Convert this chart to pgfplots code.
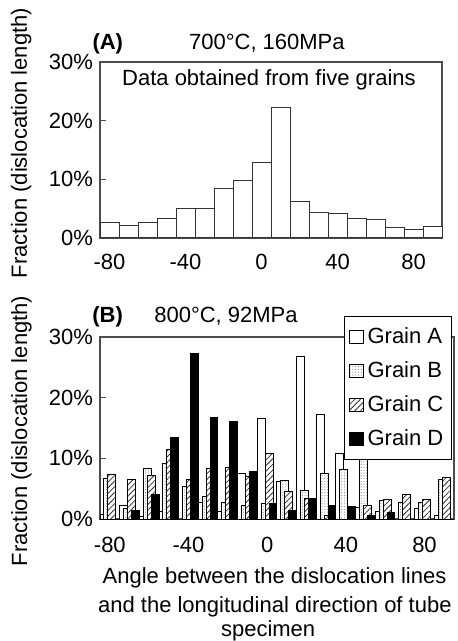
\documentclass[border=0pt]{standalone}
\usepackage{fontspec}
\setmainfont{Liberation Sans}
\usepackage{pgfplots}
\pgfplotsset{compat=1.18}
\usetikzlibrary{patterns.meta}

\newcommand{\figfont}{\fontsize{11}{13}\selectfont}

\pgfplotsset{
  panel/.style={
    scale only axis,
    xmin=-85, xmax=95, ymin=0, ymax=30,
    xtick={-80,-40,0,40,80}, xticklabels={-80,-40,0,40,80},
    ytick={0,10,20,30}, yticklabels={0\%,10\%,20\%,30\%},
    /pgf/number format/assume math mode=true,
    tick align=inside, ytick pos=left, major tick length=3pt,
    x tick style={draw=none},
    axis line style={black!70, line width=0.6pt},
    y tick style={black!70, line width=0.6pt},
    font=\figfont,
    clip=false,
  },
  bars/.style={draw=black, line width=0.5pt},
}

\begin{document}
\begin{tikzpicture}
\useasboundingbox (0,0) rectangle (229pt,-320.5pt);

% (A) all grains
\begin{axis}[panel,
  at={(50pt,-119pt)}, anchor=south west,
  width=171pt, height=88pt,
  ybar, bar width=10,
  xticklabel style={yshift=-1.3pt},
  ylabel={Fraction (dislocation length)},
  ylabel style={at={(axis description cs:-0.199,0.54)}, anchor=south, inner sep=0pt},
]
\addplot[bars, fill=white, draw=black!80, bar shift=0] coordinates {
  (-80,2.6) (-70,2.1) (-60,2.6) (-50,3.4) (-40,5.1) (-30,5.1)
  (-20,8.5) (-10,9.8) (0,12.8) (10,22.3) (20,6.3) (30,4.4)
  (40,4.1) (50,3.4) (60,3.1) (70,1.75) (80,1.5) (90,1.9)
};
\node[anchor=base west, font=\figfont\bfseries] at (axis description cs:-0.0425,1.071) {(A)};
\node[anchor=base, font=\figfont] at (axis description cs:0.488,1.071) {700°C, 160MPa};
\node[anchor=base, font=\figfont] at (axis description cs:0.494,0.864) {Data obtained from five grains};
\end{axis}

% (B) single grains
\begin{axis}[panel,
  at={(50pt,-259.5pt)}, anchor=south west,
  width=177pt, height=91pt,
  ybar, bar width=4,
  xticklabel style={yshift=-2.3pt},
  ylabel={Fraction (dislocation length)},
  ylabel style={at={(axis description cs:-0.192,0.484)}, anchor=south, inner sep=0pt},
  legend image code/.code={\draw[#1] (0pt,-3.4pt) rectangle (6.8pt,3.4pt);},
  legend style={at={(axis description cs:0.994,1.115)}, anchor=north east,
    draw=black, fill=white, line width=0.5pt, font=\figfont,
    cells={anchor=west}, row sep=3.5pt, inner xsep=2pt, inner ysep=3.5pt},
]
\addplot[bars, fill=white, bar shift=-3] coordinates {
  (-80,0.7) (-70,2.3) (-60,0.4) (-50,1.2) (-40,0) (-30,2.7)
  (-20,1.2) (-10,7.5) (0,16.6) (10,6.2) (20,26.8) (30,17.3)
  (40,10.8) (50,1.9) (60,1.2) (70,0) (80,1.8) (90,0.5)
};
\addlegendentry{Grain A}
\addplot[bars, preaction={fill=white}, pattern={Dots[distance=1.4pt, radius=0.3pt]}, pattern color=black!45, bar shift=-1] coordinates {
  (-80,6.6) (-70,1.8) (-60,8.4) (-50,9.2) (-40,5.3) (-30,3.7)
  (-20,2.7) (-10,2.3) (0,2.5) (10,6.3) (20,4.7) (30,7.5)
  (40,8.2) (50,13.0) (60,3.1) (70,2.8) (80,2.8) (90,6.5)
};
\addlegendentry{Grain B}
\addplot[bars, preaction={fill=white}, pattern={Lines[angle=45, distance=2pt, line width=0.4pt]}, pattern color=black!80, bar shift=1] coordinates {
  (-80,7.4) (-70,6.5) (-60,7.2) (-50,11.4) (-40,6.5) (-30,8.4)
  (-20,8.5) (-10,7.0) (0,10.8) (10,4.6) (20,3.3) (30,0.5)
  (40,0) (50,2.3) (60,3.2) (70,4.1) (80,3.2) (90,6.9)
};
\addlegendentry{Grain C}
\addplot[bars, fill=black, bar shift=3] coordinates {
  (-80,0) (-70,1.4) (-60,4.0) (-50,13.5) (-40,27.3) (-30,16.8)
  (-20,16.0) (-10,7.9) (0,2.5) (10,1.4) (20,3.4) (30,2.2)
  (40,2.0) (50,0.5) (60,1.1) (70,0) (80,0) (90,0)
};
\addlegendentry{Grain D}
\node[anchor=base west, font=\figfont\bfseries] at (axis description cs:-0.0414,1.077) {(B)};
\node[anchor=base, font=\figfont] at (axis description cs:0.356,1.077) {800°C, 92MPa};
\node[anchor=base, font=\figfont] at (axis description cs:0.493,-0.352) {Angle between the dislocation lines};
\node[anchor=base, font=\figfont] at (axis description cs:0.494,-0.516) {and the longitudinal direction of tube};
\node[anchor=base, font=\figfont] at (axis description cs:0.475,-0.643) {specimen};
\end{axis}
\end{tikzpicture}
\end{document}
